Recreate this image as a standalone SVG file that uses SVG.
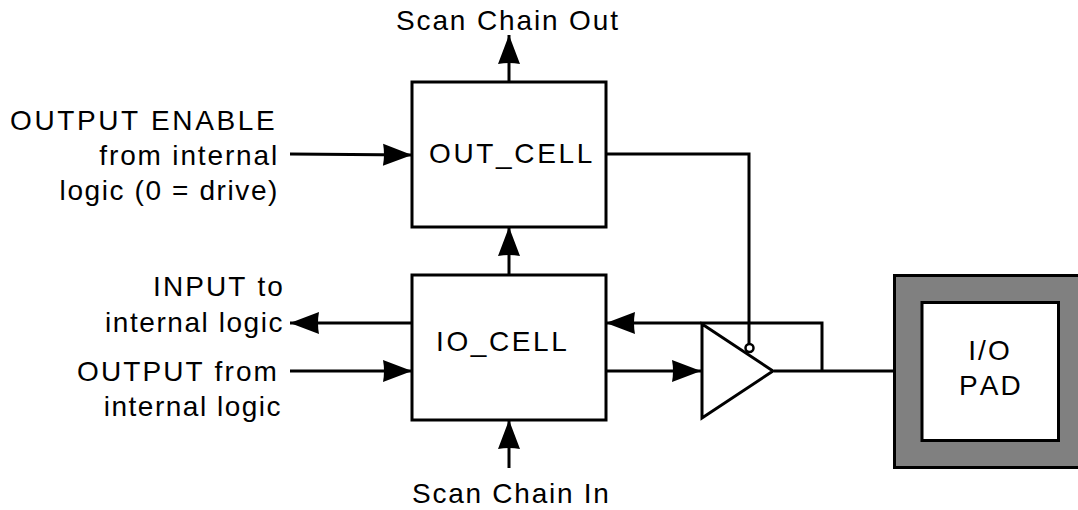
<svg xmlns="http://www.w3.org/2000/svg" width="1078" height="510" viewBox="0 0 1078 510">
<style>
text{font-family:"Liberation Sans",Arial,sans-serif;font-size:28px;fill:#000;letter-spacing:2.1px;font-kerning:none}
.e{text-anchor:end}.m{text-anchor:middle}
.b{fill:#fff;stroke:#000;stroke-width:3}
.c{fill:none;stroke:#000;stroke-width:3}
</style>
<defs><marker id="a" markerUnits="userSpaceOnUse" markerWidth="32" markerHeight="24" refX="30" refY="12" orient="auto"><path d="M1 1Q3 12 1 23L30 12Z" fill="#000"/></marker></defs>
<rect width="1078" height="510" fill="#fff"/>
<g id="connectors">
<path class="c" d="M509 82V35" marker-end="url(#a)"/>
<path class="c" d="M290 154L412 155" marker-end="url(#a)"/>
<path class="c" d="M509 275V227" marker-end="url(#a)"/>
<path class="c" d="M412 323H290" marker-end="url(#a)"/>
<path class="c" d="M290 371H412" marker-end="url(#a)"/>
<path class="c" d="M509 468V420" marker-end="url(#a)"/>
<path class="c" d="M606 371H701" marker-end="url(#a)"/>
<path class="c" d="M606 154H749V344"/>
<path class="c" d="M774 371H894"/>
<path class="c" d="M822 371V323H606" marker-end="url(#a)"/>
</g>
<g id="out-cell"><rect class="b" x="412" y="82" width="194" height="145"/><text x="429" y="163" style="letter-spacing:2.67px">OUT_CELL</text></g>
<g id="io-cell"><rect class="b" x="412" y="275" width="194" height="145"/><text x="436" y="351" style="letter-spacing:2.6px">IO_CELL</text></g>
<g id="buffer"><path class="b" d="M702 324L773 371L702 418Z"/><circle cx="749.5" cy="348" r="4" fill="#fff" stroke="#000" stroke-width="2.5"/></g>
<g id="pad"><rect x="894.5" y="275.5" width="200" height="192" fill="#808080" stroke="#000" stroke-width="3"/><rect x="922" y="302.5" width="136.5" height="138" fill="#fff" stroke="#000" stroke-width="3"/><text class="m" x="990" y="360">I/O</text><text class="m" x="991" y="395">PAD</text></g>
<g id="labels">
<text x="396" y="30" style="letter-spacing:1.87px">Scan Chain Out</text>
<text x="412" y="503" style="letter-spacing:1.75px">Scan Chain In</text>
<text x="10" y="130" style="letter-spacing:2.6px">OUTPUT ENABLE</text>
<text class="e" x="279" y="165" style="letter-spacing:1.85px">from internal</text>
<text class="e" x="279" y="200" style="letter-spacing:1.6px">logic (0 = drive)</text>
<text class="e" x="285" y="296">INPUT to</text>
<text class="e" x="284" y="332" style="letter-spacing:1.55px">internal logic</text>
<text class="e" x="279" y="381">OUTPUT from</text>
<text class="e" x="282" y="416" style="letter-spacing:1.5px">internal logic</text>
</g>
</svg>
